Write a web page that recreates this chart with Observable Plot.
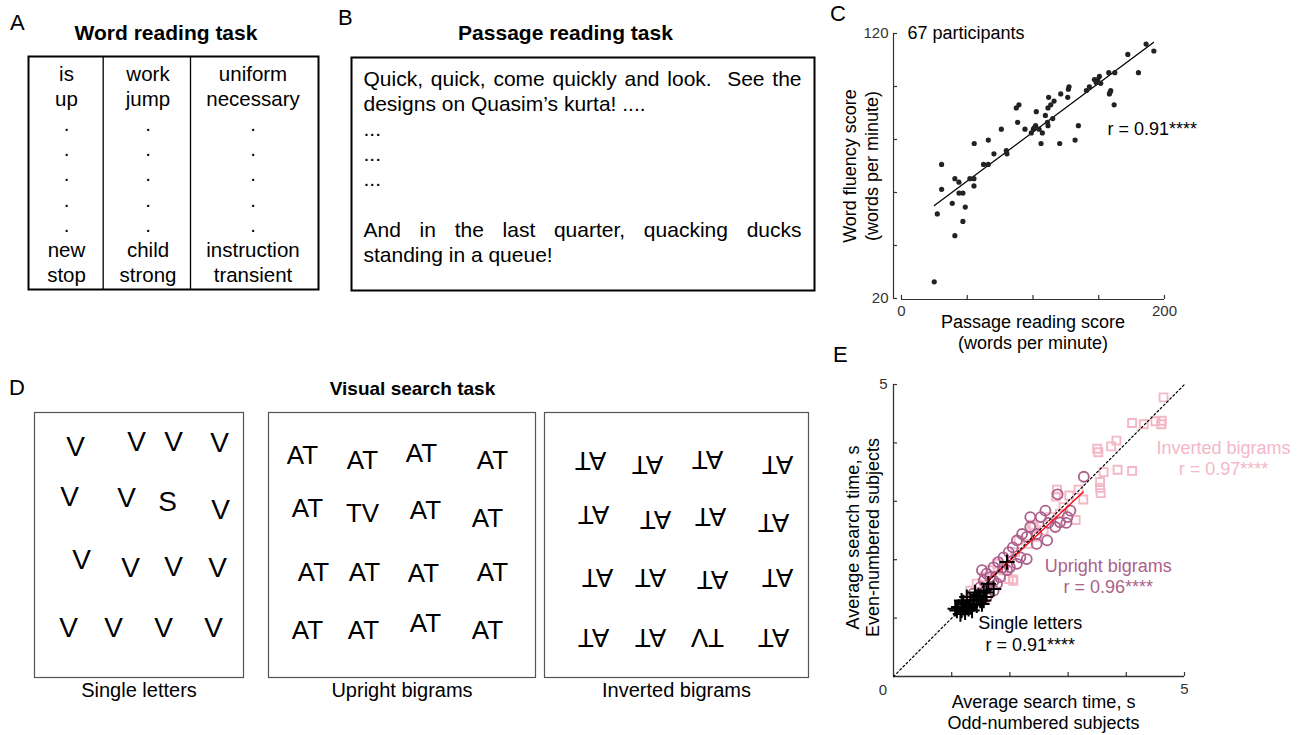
<!DOCTYPE html>
<html><head><meta charset="utf-8">
<script src="https://cdn.jsdelivr.net/npm/d3@7"></script>
<script src="https://cdn.jsdelivr.net/npm/@observablehq/plot@0.6"></script>
<style>
html,body{margin:0;padding:0;background:#fff;}
#page{position:relative;width:1309px;height:735px;overflow:hidden;font-family:"Liberation Sans",Arial,sans-serif;}
.letter{position:absolute;font-size:22px;line-height:22px;color:#000;}
</style></head><body><div id="page"></div>
<script>
// ---------------- DATA ----------------
// Panel A: word reading task
const wordCol1 = ["is","up",".",".",".",".",".","new","stop"];
const wordCol2 = ["work","jump",".",".",".",".",".","child","strong"];
const wordCol3 = ["uniform","necessary",".",".",".",".",".","instruction","transient"];
const titleA = "Word reading task";
// Panel B: passage reading task
const passageLines = ["Quick, quick, come quickly and look.  See the","designs on Quasim\u2019s kurta! ....","...","...","...","","And in the last quarter, quacking ducks","standing in a queue!"];
const justifiedLines = [0, 6];
const titleB = "Passage reading task";
// Panel C: passage vs word fluency (67 participants)
const passageScore = [24.9,27.2,30.5,30.5,38.6,40.6,40.6,43.7,43.7,46.7,46.7,48.5,52.0,55.1,55.1,55.3,62.4,66.0,66.0,70.3,75.9,79.7,80.2,87.3,89.3,88.3,93.9,98.7,100.3,102.0,102.5,104.6,106.1,107.1,109.4,111.4,111.4,111.9,113.5,115.0,116.0,120.3,121.1,126.4,126.9,127.4,132.0,134.5,140.6,142.9,146.7,149.2,150.5,151.5,157.6,158.1,159.1,158.6,161.7,162.2,172.1,180.2,186.0,191.9,101.0,111.0,148.0];
const wordScore    = [26.3,51.9,70.6,61.2,55.9,43.7,65.2,63.9,59.8,59.8,49.1,54.5,65.2,65.2,62.5,78.5,70.6,70.6,79.8,74.6,83.9,75.8,74.6,91.9,93.1,86.5,83.9,82.5,83.9,85.2,90.5,83.9,78.5,82.5,89.1,85.2,91.9,95.9,93.1,87.9,94.5,78.5,97.2,95.9,99.0,99.9,79.8,85.2,98.5,99.9,102.6,102.6,103.8,101.2,105.2,97.2,98.5,97.8,93.1,105.2,112.1,105.2,116.0,113.4,84.5,86.5,101.5];
const fitCx = [25.0, 191.6];
const fitCy = [55.1, 116.6];
const cXTicks = [0,50,100,150,200];
const cYTicks = [20,40,60,80,100,120];
const cXTickLabels = [0,200];
const cYTickLabels = [20,120];
const cNote = "67 participants";
const cR = "r = 0.91****";
const cXTitle = "Passage reading score\n(words per minute)";
const cYTitle = "Word fluency score\n(words per minute)";
// Panel D: visual search stimuli (positions inside each box, px from top-left)
const singleLetters = ["V","V","V","V","V","V","S","V","V","V","V","V","V","V","V","V"];
const singleX = [41,102,139,185,35,92,133,186,47,96,139,183,34,79,129,179];
const singleY = [35,30,30,31,85,86,90,98,148,156,155,156,216,216,216,216];
const uprightBigrams = ["AT","AT","AT","AT","AT","TV","AT","AT","AT","AT","AT","AT","AT","AT","AT","AT"];
const uprightX = [34,94,153,224,39,94,157,219,45,96,155,224,39,95,157,219];
const uprightY = [43,48,41,48,96,101,98,106,160,160,161,160,218,218,211,218];
const invertedBigrams = ["AT","AT","AT","AT","AT","AT","AT","AT","AT","AT","AT","AT","AT","AT","TV","AT"];
const invertedX = [46,103,163,233,49,111,166,229,53,106,168,233,49,106,163,229];
const invertedY = [48,52,47,52,102,107,104,110,165,165,167,165,225,225,225,225];
const titleD = "Visual search task";
const dLabels = ["Single letters","Upright bigrams","Inverted bigrams"];
// Panel E: split-half reliability
const invOdd  = [4.64,4.10,4.30,4.50,4.61,4.60,3.83,3.74,3.50,3.52,3.61,3.85,4.10,3.55,3.55,3.56,3.18,3.26,3.13,2.81,2.79,3.02,2.92,2.38,2.41,2.15,2.09,2.32,2.06,1.98,1.89,1.78,1.66,1.55,1.43,1.32,2.58,2.69,2.86,2.46,2.05];
const invEven = [4.78,4.34,4.32,4.37,4.38,4.32,4.04,3.94,3.90,3.84,3.50,3.54,3.52,3.33,3.23,3.14,3.20,3.03,2.68,3.20,3.08,3.10,2.90,2.60,2.56,2.33,2.13,2.27,1.64,1.67,1.82,1.93,1.82,1.70,1.59,1.47,2.50,2.73,2.79,2.39,1.66];
const upOdd  = [3.27,2.82,3.04,2.99,2.97,2.86,2.53,2.66,2.78,2.64,2.46,2.35,2.29,2.46,2.21,2.12,2.29,2.18,2.05,1.98,1.89,1.80,1.72,1.95,1.83,1.72,1.60,1.55,1.49,1.60,1.72,1.37,1.26,1.43,1.32,1.17,2.12,2.00,2.35,2.61,1.66,1.78,1.52,1.89,1.60,1.20];
const upEven = [3.42,3.12,2.84,2.73,2.63,2.64,2.73,2.63,2.56,2.33,2.44,2.56,2.39,2.27,2.44,2.33,2.01,2.04,2.21,2.13,2.04,1.96,1.87,1.82,1.70,1.64,1.76,1.64,1.53,1.50,1.47,1.42,1.30,1.30,1.24,1.22,1.93,1.87,2.73,2.84,1.70,1.59,1.82,1.87,1.36,1.13];
const slOdd  = [1.95,1.63,1.72,1.55,1.58,1.49,1.43,1.38,1.32,1.26,1.20,1.17,1.12,1.09,1.15,1.23,1.29,1.35,1.43,1.52,1.40,1.26,1.46,1.20,1.32,1.60,1.06,1.17,1.37,1.55];
const slEven = [1.96,1.59,1.50,1.47,1.36,1.30,1.36,1.24,1.30,1.24,1.19,1.30,1.19,1.13,1.07,1.10,1.16,1.13,1.22,1.24,1.44,1.36,1.39,1.27,1.19,1.44,1.16,1.13,1.30,1.30];
const fitEx = [1.63, 3.26];
const fitEy = [1.64, 3.16];
const unityX = [0, 5];
const unityY = [0, 5];
const eTicks = [1,2,3,4,5];
const eLabels = ["Inverted bigrams\nr = 0.97****","Upright bigrams\nr = 0.96****","Single letters\nr = 0.91****"];
const eLabelX = [5.67, 3.69, 2.35];
const eLabelY = [3.75, 1.73, 0.74];
const eXTitle = "Average search time, s\nOdd-numbered subjects";
const eYTitle = "Average search time, s\nEven-numbered subjects";
const panelLetters = ["A","B","C","D","E"];

// ---------------- STYLE / LAYOUT ----------------
const FONT = '"Liberation Sans", Arial, Helvetica, sans-serif';
const AX = "#333";
const PINK = "#f4b7c6";
const PURPLE = "#ad5f8b";
const page = document.getElementById("page");
function place(el, left, top) {
  el.style.position = "absolute"; el.style.left = left + "px"; el.style.top = top + "px";
  page.appendChild(el); return el;
}
const baseStyle = {background: "transparent", fontFamily: FONT, color: "#000", overflow: "visible"};
function boxPlot({left, top, w, h, ml = 4, mr = 4, mt = 4, mb = 4, frameStroke = "#000", frameWidth = 1.5, marks}) {
  const svg = Plot.plot({
    width: ml + w + mr, height: mt + h + mb,
    marginLeft: ml, marginRight: mr, marginTop: mt, marginBottom: mb,
    x: {domain: [0, w], axis: null},
    y: {domain: [h, 0], axis: null},
    style: baseStyle,
    marks: [...marks, Plot.frame({stroke: frameStroke, strokeWidth: frameWidth})]
  });
  return place(svg, left - ml, top - mt);
}

// ---------------- PANEL A ----------------
const rowA = i => 17.5 + 25.2 * i;
const colCentersA = [38, 119.5, 224.5];
boxPlot({left: 28, top: 56, w: 290, h: 233, mt: 40, mb: 6, frameWidth: 2, marks: [
  Plot.ruleX([74.7, 162], {stroke: "#000", strokeWidth: 1.3}),
  ...[wordCol1, wordCol2, wordCol3].map((col, c) =>
    Plot.text(col, {x: () => colCentersA[c], y: (d, i) => rowA(i), text: d => d, fontSize: 20.5, fill: "#000"})),
  Plot.text([titleA], {x: () => 137.5, y: () => -23, text: d => d, fontSize: 21, fontWeight: "bold", fill: "#000"})
]});

// ---------------- PANEL B ----------------
const svgB = boxPlot({left: 351, top: 57, w: 463, h: 233, mt: 40, mb: 6, frameWidth: 2, marks: [
  Plot.text(passageLines, {x: () => 12, y: (d, i) => 21.3 + 25.2 * i, text: d => d, textAnchor: "start", fontSize: 21, fill: "#000"}),
  Plot.text([titleB], {x: () => 214, y: () => -24, text: d => d, fontSize: 21, fontWeight: "bold", fill: "#000"})
]});
const justified = new Set(justifiedLines.map(i => passageLines[i]));
d3.select(svgB).selectAll("text").each(function() {
  const t = this.textContent;
  if (justified.has(t)) {
    const len = this.getComputedTextLength();
    const n = (t.match(/ /g) || []).length;
    this.style.wordSpacing = ((438 - len) / n) + "px";
  }
});

// ---------------- PANEL D ----------------
const dOpts = {mt: 40, mb: 34, frameStroke: "#555", frameWidth: 1.2};
const dLabel = s => Plot.text([s], {frameAnchor: "bottom", dy: 13, text: d => d, lineAnchor: "middle", textAnchor: "middle", fontSize: 20, fill: "#000"});
boxPlot({left: 34, top: 412, w: 209, h: 265, ...dOpts, marks: [
  Plot.text(singleLetters, {x: (d, i) => singleX[i], y: (d, i) => singleY[i], text: d => d, fontSize: 28, fill: "#000"}),
  dLabel(dLabels[0])
]});
boxPlot({left: 268, top: 412, w: 267, h: 265, ...dOpts, marks: [
  Plot.text(uprightBigrams, {x: (d, i) => uprightX[i], y: (d, i) => uprightY[i], text: d => d, fontSize: 26, fill: "#000"}),
  dLabel(dLabels[1]),
  Plot.text([titleD], {x: () => 144, y: () => -24, text: d => d, fontSize: 19, fontWeight: "bold", fill: "#000"})
]});
boxPlot({left: 544, top: 412, w: 264, h: 265, ...dOpts, marks: [
  Plot.text(invertedBigrams, {x: (d, i) => invertedX[i], y: (d, i) => invertedY[i], text: d => d, rotate: 180, fontSize: 26, fill: "#000"}),
  dLabel(dLabels[2])
]});

// ---------------- PANEL C ----------------
const cData = passageScore.map((x, i) => ({x, y: wordScore[i]}));
const cFit = fitCx.map((x, i) => ({x, y: fitCy[i]}));
const plotC = Plot.plot({
  width: 370, height: 360, marginLeft: 71, marginRight: 36, marginTop: 33, marginBottom: 62,
  x: {domain: [0, 200], axis: null}, y: {domain: [20, 120], axis: null},
  style: baseStyle,
  marks: [
    Plot.ruleX([0], {dx: -8, stroke: AX, strokeWidth: 1.2}),
    Plot.tickY(cYTicks, {y: d => d, dx: -8, insetRight: 259, stroke: AX, strokeWidth: 1.2}),
    Plot.ruleY([20], {dy: 1, stroke: AX, strokeWidth: 1.2}),
    Plot.tickX(cXTicks, {x: d => d, dy: 1, insetTop: 261, stroke: AX, strokeWidth: 1.2}),
    Plot.text(cYTickLabels, {x: 0, y: d => d, dx: -13, text: d => String(d), textAnchor: "end", fontSize: 15, fill: AX}),
    Plot.text(cXTickLabels, {x: d => d, y: 20, dy: 13, text: d => String(d), fontSize: 15, fill: AX}),
    Plot.line(cFit, {x: "x", y: "y", stroke: "#000", strokeWidth: 1.3}),
    Plot.dot(cData, {x: "x", y: "y", r: 2.6, fill: "#222", stroke: null}),
    Plot.text([cNote], {x: () => 4.6, y: () => 120, text: d => d, textAnchor: "start", fontSize: 18, fill: "#000"}),
    Plot.text([cR], {x: () => 156.6, y: () => 84.0, text: d => d, textAnchor: "start", fontSize: 18, fill: "#000"}),
    Plot.text([cXTitle], {frameAnchor: "bottom", dy: 33, text: d => d, lineAnchor: "middle", textAnchor: "middle", fontSize: 18, lineHeight: 1.17, fill: "#000"}),
    Plot.text([cYTitle], {frameAnchor: "left", dx: -42, rotate: -90, text: d => d, lineAnchor: "middle", textAnchor: "middle", fontSize: 18, lineHeight: 1.22, fill: "#000"})
  ]
});
place(plotC, 830, 0);

// ---------------- PANEL E ----------------
const toRows = (xs, ys) => xs.map((x, i) => ({x, y: ys[i]}));
const eLab = eLabels.map((t, i) => ({t, x: eLabelX[i], y: eLabelY[i], c: ["inv", "up", "sl"][i]}));
const plotE = Plot.plot({
  width: 479, height: 370, marginLeft: 63, marginRight: 125, marginTop: 19, marginBottom: 59,
  x: {domain: [0, 5], axis: null}, y: {domain: [0, 5], axis: null},
  color: {domain: ["inv", "up", "sl"], range: [PINK, PURPLE, "#000"]},
  style: baseStyle,
  marks: [
    Plot.ruleX([0], {stroke: AX, strokeWidth: 1.3}),
    Plot.ruleY([0], {stroke: AX, strokeWidth: 1.3}),
    Plot.tickX(eTicks, {x: d => d, insetTop: 288, stroke: AX, strokeWidth: 1.2}),
    Plot.tickY(eTicks, {y: d => d, insetRight: 287, stroke: AX, strokeWidth: 1.2}),
    Plot.dot(toRows(invOdd, invEven), {x: "x", y: "y", symbol: "square", r: 4.5, stroke: PINK, strokeWidth: 1.9, fill: "none"}),
    Plot.dot(toRows(upOdd, upEven), {x: "x", y: "y", symbol: "circle", r: 5, stroke: PURPLE, strokeWidth: 1.8, fill: "none"}),
    Plot.dot(toRows(slOdd, slEven), {x: "x", y: "y", symbol: "plus", r: 5, stroke: "#000", strokeWidth: 2}),
    Plot.line(toRows(fitEx, fitEy), {x: "x", y: "y", stroke: "#ff0000", strokeWidth: 1.3}),
    Plot.line(toRows(unityX, unityY), {x: "x", y: "y", stroke: "#000", strokeWidth: 1.2, strokeDasharray: "2,2.5"}),
    Plot.text(eLab, {x: "x", y: "y", text: "t", fill: "c", fontSize: 18, lineHeight: 1.2}),
    Plot.text(["0"], {x: 0, y: 0, dx: -10.5, dy: 14, text: d => d, fontSize: 15, fill: AX}),
    Plot.text(["5"], {x: 0, y: 5, dx: -6, text: d => d, textAnchor: "end", fontSize: 15, fill: AX}),
    Plot.text(["5"], {x: 5, y: 0, dy: 13, text: d => d, fontSize: 15, fill: AX}),
    Plot.text([eXTitle], {frameAnchor: "bottom", dx: 4.5, dy: 35, text: d => d, lineAnchor: "middle", textAnchor: "middle", fontSize: 18, lineHeight: 1.2, fill: "#000"}),
    Plot.text([eYTitle], {frameAnchor: "left", dx: -31, dy: 7, rotate: -90, text: d => d, lineAnchor: "middle", textAnchor: "middle", fontSize: 18, lineHeight: 1.12, fill: "#000"})
  ]
});
place(plotE, 830, 365);

// ---------------- PANEL LETTERS ----------------
const letterPos = [[10, 12], [338, 7], [830, 3], [9, 377], [833, 344]];
panelLetters.forEach((L, i) => {
  const d = document.createElement("div");
  d.className = "letter"; d.textContent = L;
  d.style.left = letterPos[i][0] + "px"; d.style.top = letterPos[i][1] + "px";
  page.appendChild(d);
});
</script></body></html>
